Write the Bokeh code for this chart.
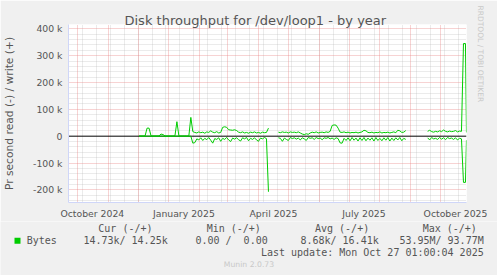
import pandas as pd
from bokeh.plotting import figure
from bokeh.layouts import column
from bokeh.models import (FixedTicker, Grid, Label, BoxAnnotation, ColumnDataSource,
                          Range1d, Title)
from bokeh.embed import file_html
from bokeh.resources import INLINE

nan = float("nan")
NBSP = "\u00a0"

# ---------------- data (k bytes / second), one sample every 2 days from 2024-12-02 ----------------
sample_start = "2024-12-02"
write_k = [
    1, 1, 1, 1, 30, 30, 1, 1, 1, 1,
    1, 8, 6, 1, 1, 1, 1, 1, 1, 54,
    1, 1, 1, 1, 1, 1, 70, 17, 14, 12,
    16, 13, 15, 11, 16, 14, 20, 15, 13, 17,
    12, 14, 33, 35, 33, 24, 23, 22, 24, 21,
    15, 13, 16, 12, 14, 11, 15, 13, 16, 12,
    14, 11, 15, 13, 14, 30, nan, nan, nan, nan,
    15, 13, 16, 14, 15, 12, 16, 14, 15, 13,
    16, 12, 8, 6, 9, 7, 12, 15, 13, 16,
    12, 14, 15, 13, 16, 14, 18, 40, 42, 41,
    30, 15, 14, 16, 13, 15, 12, 14, 13, 15,
    12, 14, 16, 22, 20, 14, 13, 15, 12, 14,
    13, 16, 12, 14, 13, 15, 12, 14, 16, 13,
    22, 20, 14, 15, 21, nan, nan, nan, nan, nan,
    nan, nan, nan, nan, nan, 18, 22, 17, 15, 18,
    16, 20, 17, 23, 18, 16, 19, 17, 18, 21,
    16, 19, 18, 345, 345, 14,
]
read_k = [
    0, 0, 0, 0, 0, 0, 0, 0, 0, 0,
    0, 0, 0, 0, 0, 0, 0, 0, 0, 0,
    0, 0, 0, 0, 0, 0, 0, 26, 24, 10,
    14, 6, 16, 8, 13, 5, 15, 26, 9, 12,
    6, 19, 8, 12, 5, 14, 20, 7, 11, 6,
    13, 18, 6, 10, 5, 17, 8, 12, 6, 14,
    19, 7, 10, 5, 9, 207, nan, nan, nan, nan,
    6, 8, 19, 7, 12, 16, 5, 9, 6, 11,
    7, 14, 6, 10, 16, 5, 8, 6, 12, 5,
    9, 7, 13, 6, 8, 5, 10, 7, 12, 6,
    9, 25, 26, 8, 16, 6, 17, 5, 15, 7,
    18, 6, 16, 5, 17, 7, 15, 6, 18, 5,
    16, 8, 17, 6, 15, 5, 18, 7, 16, 6,
    14, 5, 17, 8, 12, nan, nan, nan, nan, nan,
    nan, nan, nan, nan, nan, 6, 14, 5, 10, 8,
    12, 5, 11, 6, 13, 5, 9, 7, 12, 6,
    14, 8, 10, 172, 172, 15,
]
last_sample = "2025-10-27"

x_labels = ["October 2024", "January 2025", "April 2025", "July 2025", "October 2025"]
x_label_months = ["2024-10-01", "2025-01-01", "2025-04-01", "2025-07-01", "2025-10-01"]
y_ticks = [-200000, -100000, 0, 100000, 200000, 300000, 400000]
y_tick_labels = ["-200 k", "-100 k", "0", "100 k", "200 k", "300 k", "400 k"]

title_text = "Disk throughput for /dev/loop1 - by year"
y_label = "Pr second read (-) / write (+)"
watermark = "RRDTOOL / TOBI OETIKER"
legend_header = ["Cur (-/+)", "Min (-/+)", "Avg (-/+)", "Max (-/+)"]
legend_values = ["14.73k/ 14.25k", "0.00 /  0.00", "8.68k/ 16.41k", "53.95M/ 93.77M"]
series_name = "Bytes"
last_update = "Last update: Mon Oct 27 01:00:04 2025"
footer = "Munin 2.0.73"

# ---------------- helpers ----------------
def ms(t):
    return pd.Timestamp(t).value / 1e6

dates = list(pd.date_range(sample_start, periods=len(write_k) - 1, freq="2D")) + [pd.Timestamp(last_sample)]
xs = [ms(d) for d in dates]
src = ColumnDataSource(dict(
    x=xs,
    w=[v * 1000 for v in write_k],
    r=[-v * 1000 for v in read_k],
))

x0 = ms("2024-09-22 01:00:04")
x1 = ms("2025-10-27 01:00:04")
y_top, y_bot = 416000, -247000

WIDTH = 497
L, T, W, H = 66, 24, 400, 179
MAIN_H = 221
LEG_H = 275 - MAIN_H

FONT = "DejaVu Sans"
MONO = "DejaVu Sans Mono"
TXT = "#555555"
BG = "#F0F0F0"
AX = "#CFD6F8"
GREEN = "#00CC00"

p = figure(width=WIDTH, height=MAIN_H, title=None, toolbar_location=None,
           output_backend="svg",
           x_range=Range1d(x0, x1), y_range=Range1d(y_bot, y_top),
           min_border_left=L, min_border_right=WIDTH - L - W,
           min_border_top=T, min_border_bottom=MAIN_H - T - H)
p.frame_align = False
p.background_fill_color = "#FFFFFF"
p.border_fill_color = BG
p.outline_line_color = None
p.xgrid.visible = False
p.ygrid.visible = False

# title and watermark
p.add_layout(Title(text=title_text, align="left", offset=56, standoff=-6,
                   text_font=FONT, text_font_size="13px", text_font_style="normal",
                   text_color=TXT), "above")
p.add_layout(Title(text=watermark, align="left", offset=-19, standoff=18,
                   text_font=FONT, text_font_size="7.5px", text_font_style="normal",
                   text_color="#c8c8c8"), "right")

# axes
label_ticks = [ms(pd.Timestamp(m) + pd.Timedelta(days=15)) for m in x_label_months]
p.xaxis.ticker = FixedTicker(ticks=label_ticks)
p.xaxis.major_label_overrides = {t: s for t, s in zip(label_ticks, x_labels)}
p.yaxis.ticker = FixedTicker(ticks=y_ticks)
p.yaxis.major_label_overrides = {t: s for t, s in zip(y_ticks, y_tick_labels)}
for ax in (p.xaxis[0], p.yaxis[0]):
    ax.axis_line_color = AX
    ax.major_tick_line_color = None
    ax.minor_tick_line_color = None
    ax.major_tick_out = 0
    ax.major_tick_in = 0
    ax.major_label_text_font = FONT
    ax.major_label_text_font_size = "9.3px"
    ax.major_label_text_color = TXT
p.xaxis.major_label_standoff = 5
p.yaxis.major_label_standoff = 6
p.yaxis.axis_label = y_label
p.yaxis.axis_label_text_font = FONT
p.yaxis.axis_label_text_font_size = "10.7px"
p.yaxis.axis_label_text_font_style = "normal"
p.yaxis.axis_label_text_color = TXT
p.yaxis.axis_label_standoff = 14

# grids
month_starts = [ms(d) for d in pd.date_range("2024-10-01", "2025-10-01", freq="MS")]
half_months = [ms(d) for d in pd.date_range("2024-10-06", "2025-10-26", freq="2W-SUN")]
minor_y = [v for v in range(-240000, 420000, 20000) if v % 100000 != 0]
major_y = [v for v in y_ticks if v != 0]
GRAY_DOT = dict(grid_line_color="#b0b0b0", grid_line_alpha=0.5, grid_line_dash="1 1")
RED_DOT = dict(grid_line_color="#e88080", grid_line_alpha=0.7, grid_line_dash="1 1")
p.add_layout(Grid(dimension=0, ticker=FixedTicker(ticks=half_months), **GRAY_DOT))
p.add_layout(Grid(dimension=1, ticker=FixedTicker(ticks=minor_y), **GRAY_DOT))
p.add_layout(Grid(dimension=0, ticker=FixedTicker(ticks=month_starts), **RED_DOT))
p.add_layout(Grid(dimension=1, ticker=FixedTicker(ticks=major_y), **RED_DOT))

# zero line, then data lines
p.line([x0, x1], [0, 0], line_color="black", line_width=1)
p.line("x", "w", source=src, line_color=GREEN, line_width=1)
p.line("x", "r", source=src, line_color=GREEN, line_width=1)

# ---------------- legend strip (pixel coordinates of this strip) ----------------
lg = figure(width=WIDTH, height=LEG_H, toolbar_location=None, output_backend="svg",
            x_range=Range1d(0, WIDTH), y_range=Range1d(LEG_H, 0),
            x_axis_location=None, y_axis_location=None,
            min_border_left=0, min_border_right=0, min_border_top=0, min_border_bottom=0)
lg.frame_align = False
lg.background_fill_color = BG
lg.border_fill_color = BG
lg.outline_line_color = None
lg.xgrid.visible = False
lg.ygrid.visible = False

def label(px, py, text, font=MONO, size="10px", color=TXT, align="left"):
    # keep runs of spaces visible (SVG collapses ordinary repeated spaces)
    text = text.replace("  ", " " + NBSP)
    lg.add_layout(Label(x=px, y=py - MAIN_H, text=text, text_font=font,
                        text_font_size=size, text_color=color, text_align=align,
                        text_baseline="middle"))

lg.add_layout(BoxAnnotation(left=14, right=20, top=237.3 - MAIN_H, bottom=243.3 - MAIN_H,
                            fill_color=GREEN, fill_alpha=1, line_color=None))
label(26.2, 239.8, series_name)
for hx, h in zip([97.8, 206.2, 314.5, 422.2], legend_header):
    label(hx, 227.5, h)
for vx, v in zip([167.2, 267.2, 378.2, 483.2], legend_values):
    label(vx, 239.8, v, align="right")
label(483.2, 251.8, last_update, align="right")
label(248.5, 263.8, footer, font=FONT, size="7.7px", color="#c8c8c8", align="center")

layout = column(p, lg, spacing=0)
open("out.html", "w").write(file_html(layout, INLINE))
